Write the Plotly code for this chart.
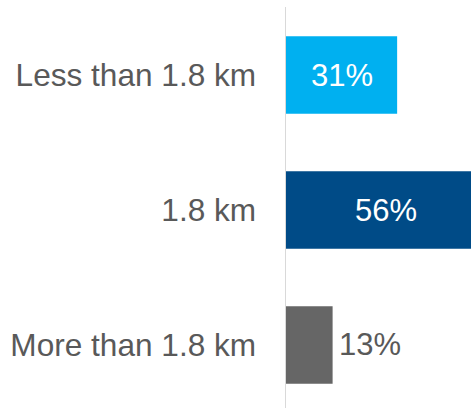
import plotly.graph_objects as go

categories = ["Less than 1.8 km", "1.8 km", "More than 1.8 km"]
values = [31, 56, 13]
labels = ["31%", "56%", "13%"]
colors = ["#00B0F0", "#004B87", "#666666"]
text_colors = ["#FFFFFF", "#FFFFFF", "#595959"]
inside = [True, True, False]

FONT = "Liberation Sans, Arial, sans-serif"

fig = go.Figure(go.Bar(
    y=categories,
    x=values,
    orientation="h",
    marker=dict(color=colors, line=dict(width=0)),
    width=0.575,
    textposition="none",
    hoverinfo="skip",
))

annotations = []
for cat, v, lab, tc, ins in zip(categories, values, labels, text_colors, inside):
    annotations.append(dict(
        x=v / 2 if ins else v,
        y=cat,
        xref="x",
        yref="y",
        text=lab,
        showarrow=False,
        xanchor="center" if ins else "left",
        yanchor="middle",
        xshift=0 if ins else 4,
        font=dict(family=FONT, size=31, color=tc),
    ))

fig.update_layout(
    width=471,
    height=408,
    margin=dict(l=286, r=0, t=7, b=0),
    paper_bgcolor="white",
    plot_bgcolor="white",
    showlegend=False,
    annotations=annotations,
    xaxis=dict(range=[0, 51.6], visible=False, fixedrange=True),
    yaxis=dict(
        range=[2.467, -0.504],
        showline=True,
        linecolor="#D9D9D9",
        linewidth=1.5,
        showgrid=False,
        zeroline=False,
        ticks="",
        ticklabelstandoff=22,
        tickfont=dict(family=FONT, size=31.6, color="#595959"),
        fixedrange=True,
    ),
)

fig.write_html(
    "out.html",
    config={"displayModeBar": False, "staticPlot": True},
    post_script="document.body.style.margin='0';document.body.style.overflow='hidden';",
)
